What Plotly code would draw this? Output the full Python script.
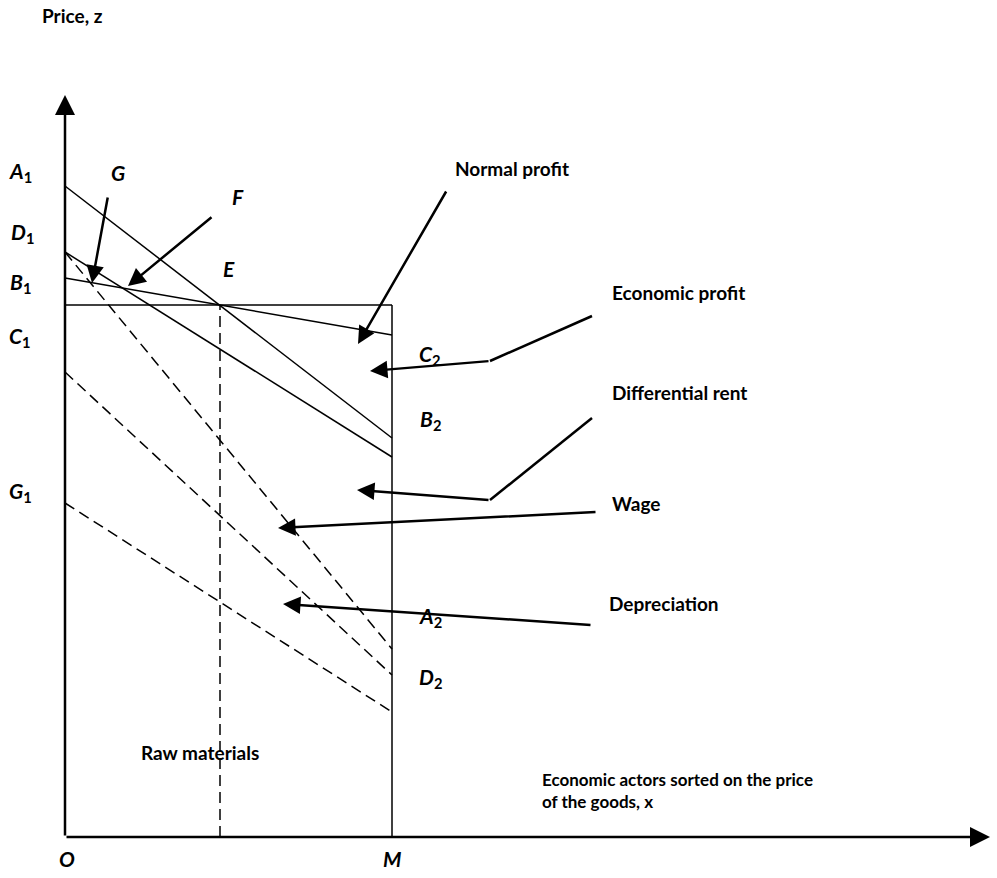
import plotly.graph_objects as go

# ---- data (diagram units: x to the right of O, z above O) ----
x_O, x_E, x_M = 0, 155, 327
z_C = 532  # price level C1-C2
x_axis_end, z_axis_end = 925, 742

solid_names = ["A1-A2", "D1-B2", "B1-C2"]
solid_z_O = [651, 585, 559]
solid_z_M = [399, 380, 502]

dash_names = ["D1-A2", "mid", "G1-D2"]
dash_z_O = [585, 465, 334]
dash_z_M = [188, 162, 125]

# callout arrows: tail -> (elbow) -> tip
arrow_tail_x = [43, 148, 382, 425, 425, 532, 527]
arrow_tail_y = [641, 621, 647, 476, 337, 325, 212]
arrow_tip_x = [27, 63, 293, 305, 292, 213, 218]
arrow_tip_y = [554, 551, 493, 466, 347, 309, 233]
elbow_start_x = [527, 527]
elbow_start_y = [521, 419]
elbow_end_x = [425, 425]
elbow_end_y = [476, 337]

point_labels = ["<i>A</i><sub>1</sub>", "<i>G</i>", "<i>F</i>", "<i>D</i><sub>1</sub>", "<i>E</i>",
                "<i>B</i><sub>1</sub>", "<i>C</i><sub>1</sub>", "<i>G</i><sub>1</sub>",
                "<i>C</i><sub>2</sub>", "<i>B</i><sub>2</sub>", "<i>A</i><sub>2</sub>",
                "<i>D</i><sub>2</sub>", "<i>O</i>", "<i>M</i>"]
point_x = [-45, 53, 173, -43, 164, -45, -45, -45, 365, 365, 365, 365, 2, 327]
point_y = [665, 665, 641, 604, 569, 554, 500, 345, 482, 417, 220, 159, -21, -21]

text_labels = ["Normal profit", "Economic profit", "Differential rent", "Wage",
               "Depreciation", "Raw materials"]
text_x = [447, 545, 545, 545, 542, 135]
text_y = [669, 545, 445, 334, 234, 85]
text_anchor = ["center", "left", "left", "left", "left", "center"]

FONT = "Lato, 'Open Sans', sans-serif"
DASH = "11px,6px"
fig = go.Figure()

def seg(x0, y0, x1, y1, width=1.5, dash="solid"):
    fig.add_trace(go.Scatter(x=[x0, x1], y=[y0, y1], mode="lines",
                             line=dict(color="black", width=width, dash=dash),
                             hoverinfo="skip", showlegend=False))

# frame lines
seg(x_O, z_C, x_M, z_C)
seg(x_M, 0, x_M, z_C)
seg(x_E, 0, x_E, z_C, dash=DASH)

for zo, zm in zip(solid_z_O, solid_z_M):
    seg(x_O, zo, x_M, zm)
for zo, zm in zip(dash_z_O, dash_z_M):
    seg(x_O, zo, x_M, zm, dash=DASH)

for sx, sy, ex, ey in zip(elbow_start_x, elbow_start_y, elbow_end_x, elbow_end_y):
    seg(sx, sy, ex, ey, width=2.5)

annotations = []
# axes
annotations.append(dict(x=x_O, y=z_axis_end, ax=x_O, ay=0, xref="x", yref="y", axref="x", ayref="y",
                        text="", showarrow=True, arrowhead=2, arrowwidth=2.5, arrowsize=1.6, arrowcolor="black"))
annotations.append(dict(x=x_axis_end, y=0, ax=x_O, ay=0, xref="x", yref="y", axref="x", ayref="y",
                        text="", showarrow=True, arrowhead=2, arrowwidth=2.5, arrowsize=1.6, arrowcolor="black"))
for tx, ty, hx, hy in zip(arrow_tail_x, arrow_tail_y, arrow_tip_x, arrow_tip_y):
    annotations.append(dict(x=hx, y=hy, ax=tx, ay=ty, xref="x", yref="y", axref="x", ayref="y",
                            text="", showarrow=True, arrowhead=2, arrowwidth=2.5, arrowsize=1.4,
                            arrowcolor="black"))

for t, x, y in zip(point_labels, point_x, point_y):
    annotations.append(dict(x=x, y=y, xref="x", yref="y", text="<b>" + t + "</b>", showarrow=False,
                            xanchor="center", yanchor="middle", font=dict(family=FONT, size=21, color="black")))
for t, x, y, a in zip(text_labels, text_x, text_y, text_anchor):
    annotations.append(dict(x=x, y=y, xref="x", yref="y", text="<b>" + t + "</b>", showarrow=False,
                            xanchor=a, yanchor="middle", font=dict(family=FONT, size=19, color="black")))

annotations.append(dict(x=-25, y=822, xref="x", yref="y", text="<b>Price, z</b>", showarrow=False,
                        xanchor="left", yanchor="middle", font=dict(family=FONT, size=19, color="black")))
annotations.append(dict(x=475, y=47, xref="x", yref="y",
                        text="<b>Economic actors sorted on the price<br>of the goods, x</b>",
                        showarrow=False, align="left", xanchor="left", yanchor="middle",
                        font=dict(family=FONT, size=17, color="black")))

fig.update_layout(
    width=997, height=878, margin=dict(l=0, r=0, t=0, b=0),
    plot_bgcolor="white", paper_bgcolor="white",
    xaxis=dict(range=[-65, 932], visible=False, fixedrange=True),
    yaxis=dict(range=[-41, 837], visible=False, fixedrange=True),
    annotations=annotations,
)
fig.write_html("out.html", config={"displayModeBar": False},
               post_script="document.body.style.margin='0';")
